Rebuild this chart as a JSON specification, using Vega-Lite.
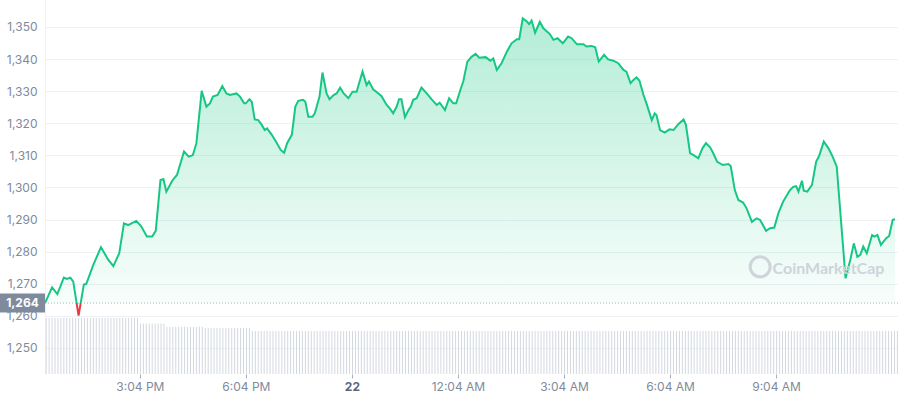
{
  "$schema": "https://vega.github.io/schema/vega-lite/v6.json",
  "width": 853,
  "height": 374,
  "autosize": "none",
  "padding": {"left": 45, "top": 0, "right": 0, "bottom": 26},
  "background": "white",
  "config": {"view": {"stroke": null}, "font": "Inter", "axis": {"labelOverlap": false}},
  "datasets": {
    "price": [
      {"t":"2024-01-21T12:23Z","p":1264.0},{"t":"2024-01-21T12:35Z","p":1268.9},{"t":"2024-01-21T12:44Z","p":1266.8},{"t":"2024-01-21T12:55Z","p":1271.9},
      {"t":"2024-01-21T13:00Z","p":1271.5},{"t":"2024-01-21T13:06Z","p":1271.9},{"t":"2024-01-21T13:11Z","p":1270.7},{"t":"2024-01-21T13:20Z","p":1260.1},
      {"t":"2024-01-21T13:29Z","p":1269.8},{"t":"2024-01-21T13:33Z","p":1269.9},{"t":"2024-01-21T13:45Z","p":1275.9},{"t":"2024-01-21T13:58Z","p":1281.4},
      {"t":"2024-01-21T14:10Z","p":1277.6},{"t":"2024-01-21T14:19Z","p":1275.5},{"t":"2024-01-21T14:29Z","p":1279.5},{"t":"2024-01-21T14:37Z","p":1288.8},
      {"t":"2024-01-21T14:44Z","p":1288.3},{"t":"2024-01-21T14:58Z","p":1289.6},{"t":"2024-01-21T15:06Z","p":1288.0},{"t":"2024-01-21T15:16Z","p":1284.7},
      {"t":"2024-01-21T15:25Z","p":1284.7},{"t":"2024-01-21T15:31Z","p":1286.5},{"t":"2024-01-21T15:39Z","p":1302.3},{"t":"2024-01-21T15:44Z","p":1302.6},
      {"t":"2024-01-21T15:49Z","p":1298.7},{"t":"2024-01-21T15:59Z","p":1302.1},{"t":"2024-01-21T16:07Z","p":1303.9},{"t":"2024-01-21T16:19Z","p":1311.2},
      {"t":"2024-01-21T16:27Z","p":1309.6},{"t":"2024-01-21T16:34Z","p":1310.1},{"t":"2024-01-21T16:40Z","p":1313.8},{"t":"2024-01-21T16:49Z","p":1330.1},
      {"t":"2024-01-21T16:57Z","p":1325.2},{"t":"2024-01-21T17:03Z","p":1326.2},{"t":"2024-01-21T17:08Z","p":1328.3},{"t":"2024-01-21T17:16Z","p":1328.8},
      {"t":"2024-01-21T17:24Z","p":1331.6},{"t":"2024-01-21T17:31Z","p":1329.3},{"t":"2024-01-21T17:37Z","p":1328.8},{"t":"2024-01-21T17:48Z","p":1329.3},
      {"t":"2024-01-21T17:54Z","p":1328.3},{"t":"2024-01-21T18:01Z","p":1326.2},{"t":"2024-01-21T18:04Z","p":1326.2},{"t":"2024-01-21T18:10Z","p":1327.5},
      {"t":"2024-01-21T18:14Z","p":1326.7},{"t":"2024-01-21T18:19Z","p":1321.2},{"t":"2024-01-21T18:25Z","p":1321.0},{"t":"2024-01-21T18:31Z","p":1319.5},
      {"t":"2024-01-21T18:36Z","p":1317.9},{"t":"2024-01-21T18:40Z","p":1318.4},{"t":"2024-01-21T18:48Z","p":1316.4},{"t":"2024-01-21T18:56Z","p":1314.0},
      {"t":"2024-01-21T19:03Z","p":1311.7},{"t":"2024-01-21T19:09Z","p":1310.8},{"t":"2024-01-21T19:14Z","p":1313.8},{"t":"2024-01-21T19:22Z","p":1316.4},
      {"t":"2024-01-21T19:28Z","p":1325.2},{"t":"2024-01-21T19:33Z","p":1327.0},{"t":"2024-01-21T19:41Z","p":1327.3},{"t":"2024-01-21T19:45Z","p":1326.7},
      {"t":"2024-01-21T19:50Z","p":1322.0},{"t":"2024-01-21T19:57Z","p":1322.0},{"t":"2024-01-21T20:01Z","p":1323.1},{"t":"2024-01-21T20:09Z","p":1328.3},
      {"t":"2024-01-21T20:14Z","p":1335.8},{"t":"2024-01-21T20:21Z","p":1329.3},{"t":"2024-01-21T20:26Z","p":1327.5},{"t":"2024-01-21T20:33Z","p":1328.8},
      {"t":"2024-01-21T20:38Z","p":1329.3},{"t":"2024-01-21T20:44Z","p":1331.1},{"t":"2024-01-21T20:50Z","p":1329.3},{"t":"2024-01-21T20:58Z","p":1327.8},
      {"t":"2024-01-21T21:05Z","p":1329.8},{"t":"2024-01-21T21:12Z","p":1329.8},{"t":"2024-01-21T21:22Z","p":1336.1},{"t":"2024-01-21T21:29Z","p":1331.9},
      {"t":"2024-01-21T21:33Z","p":1333.0},{"t":"2024-01-21T21:40Z","p":1330.6},{"t":"2024-01-21T21:49Z","p":1329.3},{"t":"2024-01-21T21:54Z","p":1328.5},
      {"t":"2024-01-21T22:03Z","p":1325.7},{"t":"2024-01-21T22:08Z","p":1324.7},{"t":"2024-01-21T22:14Z","p":1323.1},{"t":"2024-01-21T22:20Z","p":1325.2},
      {"t":"2024-01-21T22:24Z","p":1327.5},{"t":"2024-01-21T22:28Z","p":1327.5},{"t":"2024-01-21T22:34Z","p":1321.9},{"t":"2024-01-21T22:40Z","p":1324.1},
      {"t":"2024-01-21T22:44Z","p":1325.2},{"t":"2024-01-21T22:48Z","p":1327.3},{"t":"2024-01-21T22:54Z","p":1327.8},{"t":"2024-01-21T23:02Z","p":1331.1},
      {"t":"2024-01-21T23:11Z","p":1329.3},{"t":"2024-01-21T23:19Z","p":1327.5},{"t":"2024-01-21T23:28Z","p":1325.7},{"t":"2024-01-21T23:33Z","p":1326.4},
      {"t":"2024-01-21T23:42Z","p":1324.1},{"t":"2024-01-21T23:49Z","p":1327.8},{"t":"2024-01-21T23:56Z","p":1326.2},{"t":"2024-01-22T00:01Z","p":1326.2},
      {"t":"2024-01-22T00:09Z","p":1330.9},{"t":"2024-01-22T00:13Z","p":1333.0},{"t":"2024-01-22T00:20Z","p":1339.2},{"t":"2024-01-22T00:27Z","p":1340.7},
      {"t":"2024-01-22T00:34Z","p":1341.6},{"t":"2024-01-22T00:40Z","p":1340.4},{"t":"2024-01-22T00:51Z","p":1340.6},{"t":"2024-01-22T00:59Z","p":1339.5},
      {"t":"2024-01-22T01:04Z","p":1340.2},{"t":"2024-01-22T01:10Z","p":1336.6},{"t":"2024-01-22T01:18Z","p":1338.7},{"t":"2024-01-22T01:27Z","p":1342.3},
      {"t":"2024-01-22T01:35Z","p":1344.9},{"t":"2024-01-22T01:44Z","p":1346.2},{"t":"2024-01-22T01:48Z","p":1346.2},{"t":"2024-01-22T01:54Z","p":1352.7},
      {"t":"2024-01-22T02:01Z","p":1351.7},{"t":"2024-01-22T02:05Z","p":1350.9},{"t":"2024-01-22T02:09Z","p":1352.0},{"t":"2024-01-22T02:15Z","p":1348.2},
      {"t":"2024-01-22T02:23Z","p":1351.6},{"t":"2024-01-22T02:29Z","p":1349.6},{"t":"2024-01-22T02:40Z","p":1347.8},{"t":"2024-01-22T02:46Z","p":1346.0},
      {"t":"2024-01-22T02:53Z","p":1346.5},{"t":"2024-01-22T03:02Z","p":1344.9},{"t":"2024-01-22T03:11Z","p":1347.0},{"t":"2024-01-22T03:17Z","p":1346.5},
      {"t":"2024-01-22T03:26Z","p":1344.6},{"t":"2024-01-22T03:37Z","p":1344.6},{"t":"2024-01-22T03:42Z","p":1343.9},{"t":"2024-01-22T03:51Z","p":1344.1},
      {"t":"2024-01-22T03:57Z","p":1343.7},{"t":"2024-01-22T04:03Z","p":1339.2},{"t":"2024-01-22T04:12Z","p":1341.3},{"t":"2024-01-22T04:19Z","p":1339.9},
      {"t":"2024-01-22T04:28Z","p":1339.5},{"t":"2024-01-22T04:36Z","p":1338.7},{"t":"2024-01-22T04:45Z","p":1336.6},{"t":"2024-01-22T04:50Z","p":1336.1},
      {"t":"2024-01-22T04:57Z","p":1332.5},{"t":"2024-01-22T05:02Z","p":1333.5},{"t":"2024-01-22T05:07Z","p":1334.3},{"t":"2024-01-22T05:12Z","p":1333.3},
      {"t":"2024-01-22T05:19Z","p":1328.8},{"t":"2024-01-22T05:24Z","p":1326.2},{"t":"2024-01-22T05:33Z","p":1321.0},{"t":"2024-01-22T05:38Z","p":1323.1},
      {"t":"2024-01-22T05:41Z","p":1322.6},{"t":"2024-01-22T05:47Z","p":1317.9},{"t":"2024-01-22T05:55Z","p":1317.1},{"t":"2024-01-22T06:03Z","p":1318.1},
      {"t":"2024-01-22T06:10Z","p":1317.9},{"t":"2024-01-22T06:18Z","p":1319.7},{"t":"2024-01-22T06:27Z","p":1321.2},{"t":"2024-01-22T06:31Z","p":1319.5},
      {"t":"2024-01-22T06:38Z","p":1310.7},{"t":"2024-01-22T06:44Z","p":1310.1},{"t":"2024-01-22T06:52Z","p":1309.1},{"t":"2024-01-22T06:59Z","p":1312.2},
      {"t":"2024-01-22T07:05Z","p":1313.8},{"t":"2024-01-22T07:12Z","p":1312.5},{"t":"2024-01-22T07:17Z","p":1310.8},{"t":"2024-01-22T07:24Z","p":1308.0},
      {"t":"2024-01-22T07:34Z","p":1307.0},{"t":"2024-01-22T07:43Z","p":1307.3},{"t":"2024-01-22T07:47Z","p":1306.7},{"t":"2024-01-22T07:54Z","p":1299.2},
      {"t":"2024-01-22T08:00Z","p":1296.1},{"t":"2024-01-22T08:08Z","p":1295.3},{"t":"2024-01-22T08:14Z","p":1293.5},{"t":"2024-01-22T08:23Z","p":1289.3},
      {"t":"2024-01-22T08:31Z","p":1290.4},{"t":"2024-01-22T08:37Z","p":1289.9},{"t":"2024-01-22T08:47Z","p":1286.5},{"t":"2024-01-22T08:54Z","p":1287.3},
      {"t":"2024-01-22T09:01Z","p":1287.5},{"t":"2024-01-22T09:08Z","p":1292.0},{"t":"2024-01-22T09:16Z","p":1295.6},{"t":"2024-01-22T09:27Z","p":1299.0},
      {"t":"2024-01-22T09:33Z","p":1300.2},{"t":"2024-01-22T09:38Z","p":1300.4},{"t":"2024-01-22T09:42Z","p":1298.7},{"t":"2024-01-22T09:48Z","p":1302.1},
      {"t":"2024-01-22T09:51Z","p":1299.0},{"t":"2024-01-22T09:57Z","p":1298.7},{"t":"2024-01-22T10:05Z","p":1300.8},{"t":"2024-01-22T10:12Z","p":1308.0},
      {"t":"2024-01-22T10:17Z","p":1309.8},{"t":"2024-01-22T10:25Z","p":1314.3},{"t":"2024-01-22T10:33Z","p":1312.2},{"t":"2024-01-22T10:40Z","p":1309.6},
      {"t":"2024-01-22T10:47Z","p":1306.5},{"t":"2024-01-22T11:02Z","p":1271.7},{"t":"2024-01-22T11:10Z","p":1277.4},{"t":"2024-01-22T11:16Z","p":1282.6},
      {"t":"2024-01-22T11:22Z","p":1278.4},{"t":"2024-01-22T11:27Z","p":1279.0},{"t":"2024-01-22T11:32Z","p":1281.6},{"t":"2024-01-22T11:38Z","p":1279.5},
      {"t":"2024-01-22T11:47Z","p":1285.2},{"t":"2024-01-22T11:51Z","p":1284.7},{"t":"2024-01-22T11:56Z","p":1285.2},{"t":"2024-01-22T12:02Z","p":1282.1},
      {"t":"2024-01-22T12:11Z","p":1284.2},{"t":"2024-01-22T12:16Z","p":1284.9},{"t":"2024-01-22T12:22Z","p":1289.9},{"t":"2024-01-22T12:26Z","p":1290.1}
    ],
    "vol": [
      {"t":"2024-01-21T12:25Z","v":15},{"t":"2024-01-21T12:30Z","v":15},{"t":"2024-01-21T12:35Z","v":15},{"t":"2024-01-21T12:40Z","v":15},{"t":"2024-01-21T12:45Z","v":15},{"t":"2024-01-21T12:50Z","v":15},{"t":"2024-01-21T12:55Z","v":15},
      {"t":"2024-01-21T13:00Z","v":15},{"t":"2024-01-21T13:05Z","v":15},{"t":"2024-01-21T13:10Z","v":15},{"t":"2024-01-21T13:15Z","v":15},{"t":"2024-01-21T13:20Z","v":15},{"t":"2024-01-21T13:25Z","v":15},
      {"t":"2024-01-21T13:30Z","v":15},{"t":"2024-01-21T13:35Z","v":15},{"t":"2024-01-21T13:40Z","v":15},{"t":"2024-01-21T13:45Z","v":15},{"t":"2024-01-21T13:50Z","v":15},{"t":"2024-01-21T13:55Z","v":15},
      {"t":"2024-01-21T14:00Z","v":15},{"t":"2024-01-21T14:05Z","v":15},{"t":"2024-01-21T14:10Z","v":15},{"t":"2024-01-21T14:15Z","v":15},{"t":"2024-01-21T14:20Z","v":15},{"t":"2024-01-21T14:25Z","v":15},
      {"t":"2024-01-21T14:30Z","v":15},{"t":"2024-01-21T14:35Z","v":15},{"t":"2024-01-21T14:40Z","v":15},{"t":"2024-01-21T14:45Z","v":15},{"t":"2024-01-21T14:50Z","v":15},{"t":"2024-01-21T14:55Z","v":15},
      {"t":"2024-01-21T15:00Z","v":15},{"t":"2024-01-21T15:05Z","v":13.5},{"t":"2024-01-21T15:10Z","v":13.5},{"t":"2024-01-21T15:15Z","v":13.5},{"t":"2024-01-21T15:20Z","v":13.5},{"t":"2024-01-21T15:25Z","v":13.5},
      {"t":"2024-01-21T15:30Z","v":13.5},{"t":"2024-01-21T15:35Z","v":13.5},{"t":"2024-01-21T15:40Z","v":13.5},{"t":"2024-01-21T15:45Z","v":13.5},{"t":"2024-01-21T15:50Z","v":12.6},{"t":"2024-01-21T15:55Z","v":12.6},
      {"t":"2024-01-21T16:00Z","v":12.6},{"t":"2024-01-21T16:05Z","v":12.6},{"t":"2024-01-21T16:10Z","v":12.6},{"t":"2024-01-21T16:15Z","v":12.6},{"t":"2024-01-21T16:20Z","v":12.6},{"t":"2024-01-21T16:25Z","v":12.6},
      {"t":"2024-01-21T16:30Z","v":12.6},{"t":"2024-01-21T16:35Z","v":12.6},{"t":"2024-01-21T16:40Z","v":12.6},{"t":"2024-01-21T16:45Z","v":12.6},{"t":"2024-01-21T16:50Z","v":12.6},{"t":"2024-01-21T16:55Z","v":12.3},
      {"t":"2024-01-21T17:00Z","v":12.3},{"t":"2024-01-21T17:05Z","v":12.3},{"t":"2024-01-21T17:10Z","v":12.3},{"t":"2024-01-21T17:15Z","v":12.3},{"t":"2024-01-21T17:20Z","v":12.3},{"t":"2024-01-21T17:25Z","v":12.3},
      {"t":"2024-01-21T17:30Z","v":12.3},{"t":"2024-01-21T17:35Z","v":12.3},{"t":"2024-01-21T17:40Z","v":12.3},{"t":"2024-01-21T17:45Z","v":12.3},{"t":"2024-01-21T17:50Z","v":12.3},{"t":"2024-01-21T17:55Z","v":12.3},
      {"t":"2024-01-21T18:00Z","v":12.3},{"t":"2024-01-21T18:05Z","v":12.3},{"t":"2024-01-21T18:10Z","v":12.3},{"t":"2024-01-21T18:15Z","v":11.5},{"t":"2024-01-21T18:20Z","v":11.5},{"t":"2024-01-21T18:25Z","v":11.5},
      {"t":"2024-01-21T18:30Z","v":11.5},{"t":"2024-01-21T18:35Z","v":11.5},{"t":"2024-01-21T18:40Z","v":11.5},{"t":"2024-01-21T18:45Z","v":11.5},{"t":"2024-01-21T18:50Z","v":11.5},{"t":"2024-01-21T18:55Z","v":11.5},
      {"t":"2024-01-21T19:00Z","v":11.5},{"t":"2024-01-21T19:05Z","v":11.5},{"t":"2024-01-21T19:10Z","v":11.5},{"t":"2024-01-21T19:15Z","v":11.5},{"t":"2024-01-21T19:20Z","v":11.5},{"t":"2024-01-21T19:25Z","v":11.5},
      {"t":"2024-01-21T19:30Z","v":11.5},{"t":"2024-01-21T19:35Z","v":11.5},{"t":"2024-01-21T19:40Z","v":11.5},{"t":"2024-01-21T19:45Z","v":11.5},{"t":"2024-01-21T19:50Z","v":11.5},{"t":"2024-01-21T19:55Z","v":11.5},
      {"t":"2024-01-21T20:00Z","v":11.5},{"t":"2024-01-21T20:05Z","v":11.5},{"t":"2024-01-21T20:10Z","v":11.5},{"t":"2024-01-21T20:15Z","v":11.5},{"t":"2024-01-21T20:20Z","v":11.5},{"t":"2024-01-21T20:25Z","v":11.5},
      {"t":"2024-01-21T20:30Z","v":11.5},{"t":"2024-01-21T20:35Z","v":11.5},{"t":"2024-01-21T20:40Z","v":11.5},{"t":"2024-01-21T20:45Z","v":11.5},{"t":"2024-01-21T20:50Z","v":11.5},{"t":"2024-01-21T20:55Z","v":11.5},
      {"t":"2024-01-21T21:00Z","v":11.5},{"t":"2024-01-21T21:05Z","v":11.5},{"t":"2024-01-21T21:10Z","v":11.5},{"t":"2024-01-21T21:15Z","v":11.5},{"t":"2024-01-21T21:20Z","v":11.5},{"t":"2024-01-21T21:25Z","v":11.5},
      {"t":"2024-01-21T21:30Z","v":11.5},{"t":"2024-01-21T21:35Z","v":11.5},{"t":"2024-01-21T21:40Z","v":11.5},{"t":"2024-01-21T21:45Z","v":11.5},{"t":"2024-01-21T21:50Z","v":11.5},{"t":"2024-01-21T21:55Z","v":11.5},
      {"t":"2024-01-21T22:00Z","v":11.5},{"t":"2024-01-21T22:05Z","v":11.5},{"t":"2024-01-21T22:10Z","v":11.5},{"t":"2024-01-21T22:15Z","v":11.5},{"t":"2024-01-21T22:20Z","v":11.5},{"t":"2024-01-21T22:25Z","v":11.5},
      {"t":"2024-01-21T22:30Z","v":11.5},{"t":"2024-01-21T22:35Z","v":11.5},{"t":"2024-01-21T22:40Z","v":11.5},{"t":"2024-01-21T22:45Z","v":11.5},{"t":"2024-01-21T22:50Z","v":11.5},{"t":"2024-01-21T22:55Z","v":11.5},
      {"t":"2024-01-21T23:00Z","v":11.5},{"t":"2024-01-21T23:05Z","v":11.5},{"t":"2024-01-21T23:10Z","v":11.5},{"t":"2024-01-21T23:15Z","v":11.5},{"t":"2024-01-21T23:20Z","v":11.5},{"t":"2024-01-21T23:25Z","v":11.5},
      {"t":"2024-01-21T23:30Z","v":11.5},{"t":"2024-01-21T23:35Z","v":11.5},{"t":"2024-01-21T23:40Z","v":11.5},{"t":"2024-01-21T23:45Z","v":11.5},{"t":"2024-01-21T23:50Z","v":11.5},{"t":"2024-01-21T23:55Z","v":11.5},
      {"t":"2024-01-22T00:00Z","v":11.5},{"t":"2024-01-22T00:05Z","v":11.5},{"t":"2024-01-22T00:10Z","v":11.5},{"t":"2024-01-22T00:15Z","v":11.5},{"t":"2024-01-22T00:20Z","v":11.5},{"t":"2024-01-22T00:25Z","v":11.5},
      {"t":"2024-01-22T00:30Z","v":11.5},{"t":"2024-01-22T00:35Z","v":11.5},{"t":"2024-01-22T00:40Z","v":11.5},{"t":"2024-01-22T00:45Z","v":11.5},{"t":"2024-01-22T00:50Z","v":11.5},{"t":"2024-01-22T00:55Z","v":11.5},
      {"t":"2024-01-22T01:00Z","v":11.5},{"t":"2024-01-22T01:05Z","v":11.5},{"t":"2024-01-22T01:10Z","v":11.5},{"t":"2024-01-22T01:15Z","v":11.5},{"t":"2024-01-22T01:20Z","v":11.5},{"t":"2024-01-22T01:25Z","v":11.5},
      {"t":"2024-01-22T01:30Z","v":11.5},{"t":"2024-01-22T01:35Z","v":11.5},{"t":"2024-01-22T01:40Z","v":11.5},{"t":"2024-01-22T01:45Z","v":11.5},{"t":"2024-01-22T01:50Z","v":11.5},{"t":"2024-01-22T01:55Z","v":11.5},
      {"t":"2024-01-22T02:00Z","v":11.5},{"t":"2024-01-22T02:05Z","v":11.5},{"t":"2024-01-22T02:10Z","v":11.5},{"t":"2024-01-22T02:15Z","v":11.5},{"t":"2024-01-22T02:20Z","v":11.5},{"t":"2024-01-22T02:25Z","v":11.5},
      {"t":"2024-01-22T02:30Z","v":11.5},{"t":"2024-01-22T02:35Z","v":11.5},{"t":"2024-01-22T02:40Z","v":11.5},{"t":"2024-01-22T02:45Z","v":11.5},{"t":"2024-01-22T02:50Z","v":11.5},{"t":"2024-01-22T02:55Z","v":11.5},
      {"t":"2024-01-22T03:00Z","v":11.5},{"t":"2024-01-22T03:05Z","v":11.5},{"t":"2024-01-22T03:10Z","v":11.5},{"t":"2024-01-22T03:15Z","v":11.5},{"t":"2024-01-22T03:20Z","v":11.5},{"t":"2024-01-22T03:25Z","v":11.5},
      {"t":"2024-01-22T03:30Z","v":11.5},{"t":"2024-01-22T03:35Z","v":11.5},{"t":"2024-01-22T03:40Z","v":11.5},{"t":"2024-01-22T03:45Z","v":11.5},{"t":"2024-01-22T03:50Z","v":11.5},{"t":"2024-01-22T03:55Z","v":11.5},
      {"t":"2024-01-22T04:00Z","v":11.5},{"t":"2024-01-22T04:05Z","v":11.5},{"t":"2024-01-22T04:10Z","v":11.5},{"t":"2024-01-22T04:15Z","v":11.5},{"t":"2024-01-22T04:20Z","v":11.5},{"t":"2024-01-22T04:25Z","v":11.5},
      {"t":"2024-01-22T04:30Z","v":11.5},{"t":"2024-01-22T04:35Z","v":11.5},{"t":"2024-01-22T04:40Z","v":11.5},{"t":"2024-01-22T04:45Z","v":11.5},{"t":"2024-01-22T04:50Z","v":11.5},{"t":"2024-01-22T04:55Z","v":11.5},
      {"t":"2024-01-22T05:00Z","v":11.5},{"t":"2024-01-22T05:05Z","v":11.5},{"t":"2024-01-22T05:10Z","v":11.5},{"t":"2024-01-22T05:15Z","v":11.5},{"t":"2024-01-22T05:20Z","v":11.5},{"t":"2024-01-22T05:25Z","v":11.5},
      {"t":"2024-01-22T05:30Z","v":11.5},{"t":"2024-01-22T05:35Z","v":11.5},{"t":"2024-01-22T05:40Z","v":11.5},{"t":"2024-01-22T05:45Z","v":11.5},{"t":"2024-01-22T05:50Z","v":11.5},{"t":"2024-01-22T05:55Z","v":11.5},
      {"t":"2024-01-22T06:00Z","v":11.5},{"t":"2024-01-22T06:05Z","v":11.5},{"t":"2024-01-22T06:10Z","v":11.5},{"t":"2024-01-22T06:15Z","v":11.5},{"t":"2024-01-22T06:20Z","v":11.5},{"t":"2024-01-22T06:25Z","v":11.5},
      {"t":"2024-01-22T06:30Z","v":11.5},{"t":"2024-01-22T06:35Z","v":11.5},{"t":"2024-01-22T06:40Z","v":11.5},{"t":"2024-01-22T06:45Z","v":11.5},{"t":"2024-01-22T06:50Z","v":11.5},{"t":"2024-01-22T06:55Z","v":11.5},
      {"t":"2024-01-22T07:00Z","v":11.5},{"t":"2024-01-22T07:05Z","v":11.5},{"t":"2024-01-22T07:10Z","v":11.5},{"t":"2024-01-22T07:15Z","v":11.5},{"t":"2024-01-22T07:20Z","v":11.5},{"t":"2024-01-22T07:25Z","v":11.5},
      {"t":"2024-01-22T07:30Z","v":11.5},{"t":"2024-01-22T07:35Z","v":11.5},{"t":"2024-01-22T07:40Z","v":11.5},{"t":"2024-01-22T07:45Z","v":11.5},{"t":"2024-01-22T07:50Z","v":11.5},{"t":"2024-01-22T07:55Z","v":11.5},
      {"t":"2024-01-22T08:00Z","v":11.5},{"t":"2024-01-22T08:05Z","v":11.5},{"t":"2024-01-22T08:10Z","v":11.5},{"t":"2024-01-22T08:15Z","v":11.5},{"t":"2024-01-22T08:20Z","v":11.5},{"t":"2024-01-22T08:25Z","v":11.5},
      {"t":"2024-01-22T08:30Z","v":11.5},{"t":"2024-01-22T08:35Z","v":11.5},{"t":"2024-01-22T08:40Z","v":11.5},{"t":"2024-01-22T08:45Z","v":11.5},{"t":"2024-01-22T08:50Z","v":11.5},{"t":"2024-01-22T08:55Z","v":11.5},
      {"t":"2024-01-22T09:00Z","v":11.5},{"t":"2024-01-22T09:05Z","v":11.5},{"t":"2024-01-22T09:10Z","v":11.5},{"t":"2024-01-22T09:15Z","v":11.5},{"t":"2024-01-22T09:20Z","v":11.5},{"t":"2024-01-22T09:25Z","v":11.5},
      {"t":"2024-01-22T09:30Z","v":11.5},{"t":"2024-01-22T09:35Z","v":11.5},{"t":"2024-01-22T09:40Z","v":11.5},{"t":"2024-01-22T09:45Z","v":11.5},{"t":"2024-01-22T09:50Z","v":11.5},{"t":"2024-01-22T09:55Z","v":11.5},
      {"t":"2024-01-22T10:00Z","v":11.5},{"t":"2024-01-22T10:05Z","v":11.5},{"t":"2024-01-22T10:10Z","v":11.5},{"t":"2024-01-22T10:15Z","v":11.5},{"t":"2024-01-22T10:20Z","v":11.5},{"t":"2024-01-22T10:25Z","v":11.5},
      {"t":"2024-01-22T10:30Z","v":11.5},{"t":"2024-01-22T10:35Z","v":11.5},{"t":"2024-01-22T10:40Z","v":11.5},{"t":"2024-01-22T10:45Z","v":11.5},{"t":"2024-01-22T10:50Z","v":11.5},{"t":"2024-01-22T10:55Z","v":11.5},
      {"t":"2024-01-22T11:00Z","v":11.5},{"t":"2024-01-22T11:05Z","v":11.5},{"t":"2024-01-22T11:10Z","v":11.5},{"t":"2024-01-22T11:15Z","v":11.5},{"t":"2024-01-22T11:20Z","v":11.5},{"t":"2024-01-22T11:25Z","v":11.5},
      {"t":"2024-01-22T11:30Z","v":11.5},{"t":"2024-01-22T11:35Z","v":11.5},{"t":"2024-01-22T11:40Z","v":11.5},{"t":"2024-01-22T11:45Z","v":11.5},{"t":"2024-01-22T11:50Z","v":11.5},{"t":"2024-01-22T11:55Z","v":11.5},
      {"t":"2024-01-22T12:00Z","v":11.5},{"t":"2024-01-22T12:05Z","v":11.5},{"t":"2024-01-22T12:10Z","v":11.5},{"t":"2024-01-22T12:15Z","v":11.5},{"t":"2024-01-22T12:20Z","v":11.5},{"t":"2024-01-22T12:25Z","v":11.5},
      {"t":"2024-01-22T12:30Z","v":11.5}
    ],
    "open": [{"t":"2024-01-21T12:23Z","p":1264,"label":"1,264"}],
    "wm": [{"t":"2024-01-22T08:37Z","p":1275.3,"item":"logo"},{"t":"2024-01-22T08:58Z","p":1274.5,"item":"CoinMarketCap"}]
  },
  "layer": [
    {
      "data": {"name": "vol"},
      "mark": {"type": "rule", "color": "#d3d8df", "strokeWidth": 1},
      "encoding": {
        "x": {
          "field": "t", "type": "temporal",
          "scale": {"type": "utc", "domain": [
            {"year": 2024, "month": 1, "date": 21, "hours": 12, "minutes": 23, "utc": true},
            {"year": 2024, "month": 1, "date": 22, "hours": 12, "minutes": 31, "utc": true}
          ]},
          "axis": {
            "title": null,
            "values": [
              {"year": 2024, "month": 1, "date": 21, "hours": 15, "minutes": 4, "utc": true},
              {"year": 2024, "month": 1, "date": 21, "hours": 18, "minutes": 4, "utc": true},
              {"year": 2024, "month": 1, "date": 21, "hours": 21, "minutes": 4, "utc": true},
              {"year": 2024, "month": 1, "date": 22, "hours": 0, "minutes": 4, "utc": true},
              {"year": 2024, "month": 1, "date": 22, "hours": 3, "minutes": 4, "utc": true},
              {"year": 2024, "month": 1, "date": 22, "hours": 6, "minutes": 4, "utc": true},
              {"year": 2024, "month": 1, "date": 22, "hours": 9, "minutes": 4, "utc": true}
            ],
            "labelExpr": "utchours(datum.value) == 21 ? '22' : utcFormat(datum.value, '%-I:%M %p')",
            "grid": false, "domain": false, "labelOverlap": false,
            "tickColor": "#a6b0c3", "tickSize": 4, "labelPadding": 3,
            "labelFont": "Inter", "labelFontSize": 12,
            "labelColor": {"condition": {"test": "utchours(datum.value) == 21", "value": "#58667e"}, "value": "#808a9d"},
            "labelFontWeight": {"condition": {"test": "utchours(datum.value) == 21", "value": "bold"}, "value": "normal"}
          }
        },
        "y": {"field": "v", "type": "quantitative", "scale": {"domain": [0, 100]}, "axis": null},
        "y2": {"datum": 0}
      }
    },
    {
      "encoding": {
        "x": {"field": "t", "type": "temporal"},
        "y": {
          "field": "p", "type": "quantitative",
          "scale": {"domain": [1241.9, 1358.4], "nice": false, "zero": false},
          "axis": {
            "title": null,
            "values": [1250, 1260, 1270, 1280, 1290, 1300, 1310, 1320, 1330, 1340, 1350],
            "format": ",d", "grid": true, "gridColor": "#eff2f5", "gridWidth": 1, "labelOverlap": false,
            "ticks": false, "labelPadding": 8, "labelColor": "#808a9d", "labelFontSize": 12, "labelFont": "Inter",
            "domain": true, "domainColor": "#eff2f5"
          }
        }
      },
      "layer": [
        {
          "data": {"name": "price"},
          "mark": {"type": "area", "fill": {"gradient": "linear", "x1": 0, "y1": 0, "x2": 0, "y2": 1, "stops": [{"offset": 0, "color": "rgba(22,199,132,0.32)"}, {"offset": 1, "color": "rgba(22,199,132,0.02)"}]}},
          "encoding": {"y2": {"datum": 1264}}
        },
        {
          "data": {"name": "price"},
          "mark": {"type": "line", "strokeWidth": 2, "stroke": {"gradient": "linear", "x1": 0, "y1": 0, "x2": 0, "y2": 1, "stops": [{"offset": 0, "color": "#16c784"}, {"offset": 0.958, "color": "#16c784"}, {"offset": 0.958, "color": "#ea3943"}, {"offset": 1, "color": "#ea3943"}]}}
        },
        {
          "data": {"name": "open"},
          "mark": {"type": "rule", "color": "#a6b0c3", "strokeWidth": 1, "strokeDash": [1, 2]},
          "encoding": {"x": null}
        },
        {
          "data": {"name": "open"},
          "mark": {"type": "point", "shape": "M-1,-0.42L1,-0.42L1,0.42L-1,0.42Z", "size": 2025, "filled": true, "color": "#808a9d", "opacity": 1, "xOffset": -22.5}
        },
        {
          "data": {"name": "open"},
          "mark": {"type": "text", "color": "white", "fontWeight": "bold", "fontSize": 12, "font": "Inter", "align": "center", "baseline": "middle", "dx": -22.5},
          "encoding": {"text": {"field": "label"}}
        },
        {
          "data": {"name": "wm"},
          "transform": [{"filter": "datum.item == 'logo'"}],
          "mark": {"type": "point", "shape": "circle", "size": 400, "filled": false, "color": "#cfd3da", "strokeWidth": 3, "opacity": 1}
        },
        {
          "data": {"name": "wm"},
          "transform": [{"filter": "datum.item != 'logo'"}],
          "mark": {"type": "text", "color": "#cfd3da", "fontWeight": "bold", "fontSize": 16, "font": "Lato", "align": "left", "baseline": "middle"},
          "encoding": {"text": {"field": "item"}}
        }
      ]
    }
  ],
  "resolve": {"scale": {"y": "independent"}}
}
